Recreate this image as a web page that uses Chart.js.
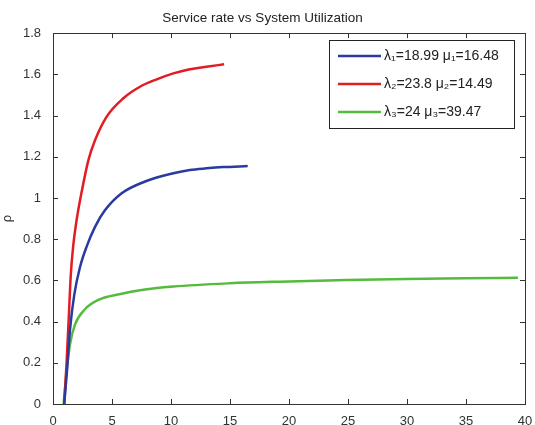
<!DOCTYPE html>
<html>
<head>
<meta charset="utf-8">
<script src="https://cdn.jsdelivr.net/npm/chart.js@4"></script>
<style>
  html, body { margin: 0; padding: 0; background: #fff; }
  #wrap { width: 535px; height: 425px; }
</style>
</head>
<body>
<div id="wrap"><canvas id="myChart"></canvas></div>
<script>
// service rate (x) vs utilization (rho)
const blueX = [0.95, 1.2, 1.44, 1.8, 2.29, 2.85, 3.56, 4.4, 5.82, 7.8, 10.2, 11.6, 13, 14.4, 16.5];
const blueY = [0, 0.17, 0.36, 0.53, 0.665, 0.764, 0.86, 0.94, 1.023, 1.08, 1.12, 1.136, 1.144, 1.15, 1.155];

const redX = [0.95, 1.16, 1.36, 1.5, 1.7, 2.0, 2.43, 3.0, 3.56, 4.55, 5.96, 7.37, 8.79, 10.2, 11.6, 13, 14.5];
const redY = [0, 0.21, 0.45, 0.62, 0.76, 0.893, 1.03, 1.184, 1.28, 1.395, 1.484, 1.54, 1.576, 1.605, 1.625, 1.637, 1.649];

const greenX = [0.9, 1.16, 1.44, 1.86, 2.71, 3.84, 5.82, 7.37, 10.2, 15, 19.2, 24.9, 30, 35, 39.4];
const greenY = [0, 0.165, 0.29, 0.385, 0.46, 0.505, 0.535, 0.552, 0.57, 0.586, 0.594, 0.602, 0.607, 0.61, 0.613];

const seriesLabels = ['λ₁=18.99 μ₁=16.48', 'λ₂=23.8 μ₂=14.49', 'λ₃=24 μ₃=39.47'];
const seriesColors = ['#2a3a9e', '#e31b23', '#55bb3c'];

const xTicks = [0, 5, 10, 15, 20, 25, 30, 35, 40];
const yTicks = [0, 0.2, 0.4, 0.6, 0.8, 1, 1.2, 1.4, 1.6, 1.8];

function pts(xs, ys) {
  return xs.map((x, i) => ({ x: x, y: ys[i] }));
}

const FONT = "'Liberation Sans', Arial, sans-serif";

// box around the axes, inward ticks, and the legend box (matlab style)
const matlabBox = {
  id: 'matlabBox',
  afterDraw(chart) {
    const ctx = chart.ctx;
    const a = chart.chartArea;
    const xs = chart.scales.x, ys = chart.scales.y;
    ctx.save();
    ctx.strokeStyle = '#333';
    ctx.lineWidth = 1;
    ctx.strokeRect(Math.round(a.left) + 0.5, Math.round(a.top) + 0.5,
      Math.round(a.right - a.left), Math.round(a.bottom - a.top));
    ctx.beginPath();
    xTicks.forEach(v => {
      const p = Math.round(xs.getPixelForValue(v)) + 0.5;
      ctx.moveTo(p, a.bottom); ctx.lineTo(p, a.bottom - 5);
      ctx.moveTo(p, a.top); ctx.lineTo(p, a.top + 5);
    });
    yTicks.forEach(v => {
      const p = Math.round(ys.getPixelForValue(v)) + 0.5;
      ctx.moveTo(a.left, p); ctx.lineTo(a.left + 5, p);
      ctx.moveTo(a.right, p); ctx.lineTo(a.right - 5, p);
    });
    ctx.stroke();

    // legend
    const lx = 329, ly = 40, lw = 185, lh = 88;
    ctx.fillStyle = '#fff';
    ctx.fillRect(lx, ly, lw, lh);
    ctx.strokeStyle = '#222';
    ctx.strokeRect(lx + 0.5, ly + 0.5, lw, lh);
    ctx.font = '14px ' + FONT;
    ctx.textBaseline = 'middle';
    seriesLabels.forEach((t, i) => {
      const y = ly + 16 + i * 28;
      ctx.strokeStyle = seriesColors[i];
      ctx.lineWidth = 2.5;
      ctx.beginPath();
      ctx.moveTo(lx + 9, y); ctx.lineTo(lx + 52, y);
      ctx.stroke();
      ctx.fillStyle = '#222';
      ctx.fillText(t, lx + 55, y);
    });
    ctx.restore();
  }
};

const data = {
  datasets: [{
    label: seriesLabels[0],
    data: pts(blueX, blueY),
    borderColor: seriesColors[0]
  }, {
    label: seriesLabels[1],
    data: pts(redX, redY),
    borderColor: seriesColors[1]
  }, {
    label: seriesLabels[2],
    data: pts(greenX, greenY),
    borderColor: seriesColors[2]
  }]
};

const config = {
  type: 'line',
  data: data,
  options: {
    responsive: true,
    maintainAspectRatio: false,
    animation: false,
    layout: { padding: { left: 0, right: 10, top: 0, bottom: 0 } },
    elements: {
      point: { radius: 0 },
      line: { borderWidth: 2.5, cubicInterpolationMode: 'monotone', fill: false }
    },
    scales: {
      x: {
        type: 'linear',
        min: 0,
        max: 40,
        afterBuildTicks: s => { s.ticks = xTicks.map(v => ({ value: v })); },
        afterFit: s => { s.height = 21; },
        grid: { display: false },
        border: { display: false },
        ticks: { color: '#333', font: { family: FONT, size: 13 }, padding: 2 }
      },
      y: {
        type: 'linear',
        min: 0,
        max: 1.8,
        afterBuildTicks: s => { s.ticks = yTicks.map(v => ({ value: v })); },
        afterFit: s => { s.width = 53; },
        grid: { display: false },
        border: { display: false },
        title: {
          display: true,
          text: 'ρ',
          color: '#333',
          font: { family: FONT, size: 13 },
          padding: 0
        },
        ticks: {
          color: '#333',
          font: { family: FONT, size: 13 },
          padding: 4,
          callback: v => String(+v.toFixed(1))
        }
      }
    },
    plugins: {
      legend: { display: false },
      tooltip: { enabled: false },
      title: {
        display: true,
        text: 'Service rate vs System Utilization',
        color: '#222',
        font: { family: FONT, size: 13.5, weight: 'normal' },
        padding: { top: 10, bottom: 7 }
      }
    }
  },
  plugins: [matlabBox]
};

const myChart = new Chart(document.getElementById('myChart'), config);
</script>
</body>
</html>
